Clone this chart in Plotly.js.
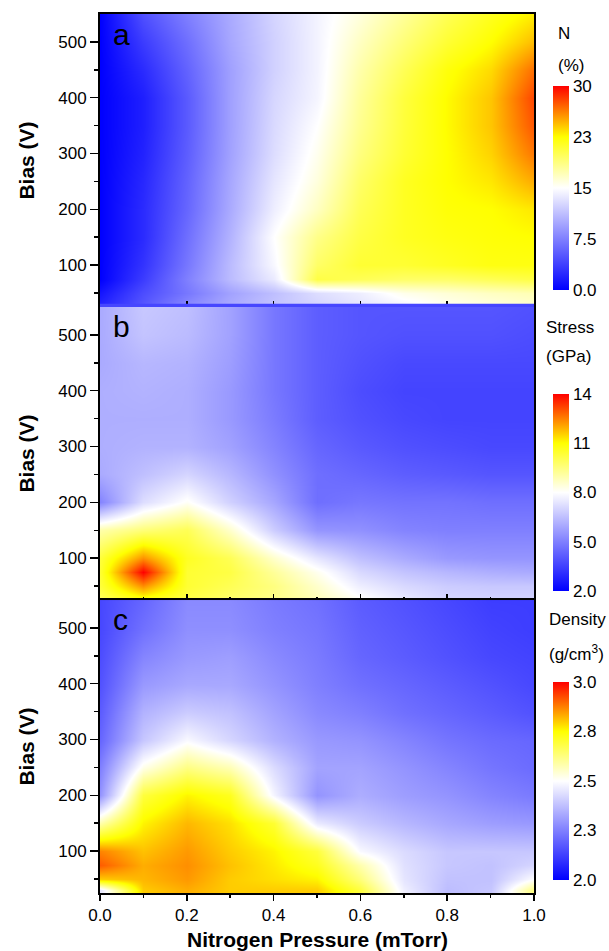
<!DOCTYPE html>
<html>
<head>
<meta charset="utf-8">
<script src="https://cdn.plot.ly/plotly-3.0.1.min.js"></script>
<style>html,body{margin:0;padding:0;background:#fff;}#chart{width:609px;height:951px;}</style>
</head>
<body>
<div id="chart"></div>
<script>
// Nitrogen pressure (mTorr) grid columns
const pressure = [0, 0.1, 0.2, 0.3, 0.4, 0.5, 0.6, 0.7, 0.8, 0.9, 1.0];
// Bias (V) grid rows
const bias = [30, 50, 75, 100, 150, 200, 250, 300, 350, 400, 450, 500, 550];

// Panel a: N content (%)
const nitrogen = [
  [2, 5, 8, 10, 11.5, 12.5, 13.5, 14.5, 15.5, 16, 16.5],
  [1.2, 4.5, 7, 9.5, 11.2, 13, 14, 15.6, 16.2, 16.8, 17.2],
  [0, 3.5, 7.5, 11, 13.8, 20.5, 20, 19.5, 19.5, 20, 20.5],
  [0, 3, 7, 11, 14.6, 19.5, 21, 21, 21.5, 22, 22],
  [0, 2.5, 6.5, 10.5, 15, 18.5, 20.5, 21.5, 22, 22.3, 22.5],
  [0, 2.5, 6, 10, 14, 16.8, 20, 21.5, 22.3, 22.5, 23.2],
  [0, 2.3, 5.8, 9.8, 13.5, 16, 19.5, 21.5, 22.5, 23.2, 25],
  [0, 2, 5.5, 9.5, 13, 15.5, 18.8, 21, 22.5, 23.8, 26.5],
  [0, 1.8, 5.3, 9.4, 12.8, 15, 18.3, 20.8, 22.6, 24.2, 27.5],
  [0, 1.8, 5.3, 9.4, 12.6, 14.4, 18, 20.7, 22.6, 24.2, 28],
  [0, 2.5, 5.8, 9.4, 12.3, 14.3, 17.5, 20, 22.2, 23.6, 26.8],
  [0, 3.5, 6.5, 9.8, 12.3, 14.3, 16.8, 19, 21, 22.5, 24.5],
  [0, 4.7, 7.5, 10, 12.5, 14.3, 16, 18, 20, 21.6, 23]
];

// Panel b: Stress (GPa)
const stress = [
  [10, 11, 10.2, 9.8, 9.4, 8.8, 8, 7.4, 7, 6.9, 6.9],
  [10.3, 12.3, 10.4, 10, 9.5, 8.6, 7.6, 7.1, 6.8, 6.7, 6.7],
  [10.4, 14, 10.4, 10.2, 9.2, 8.2, 7.1, 6.6, 6.3, 6.1, 6],
  [10.3, 12.3, 10.6, 10, 8.6, 7.4, 6.5, 6, 5.6, 5.5, 5.5],
  [9, 9.6, 10, 8.6, 6.8, 5.5, 5.4, 5.1, 5, 5, 5],
  [5.1, 7.2, 8.1, 6.9, 5.9, 4.6, 4.8, 4.7, 4.7, 4.6, 4.6],
  [6, 6.5, 7, 6.3, 5.4, 4.6, 4.4, 4.2, 4.1, 4, 4],
  [6.1, 6.2, 6.2, 5.8, 5.1, 4.4, 4.1, 3.9, 3.8, 3.7, 3.7],
  [6.1, 6.1, 6.1, 5.6, 4.9, 4.2, 3.9, 3.7, 3.6, 3.6, 3.6],
  [6.1, 6.2, 6.1, 5.6, 4.8, 4.2, 3.8, 3.6, 3.6, 3.6, 3.6],
  [6, 6.3, 6.2, 5.7, 4.8, 4.2, 3.9, 3.7, 3.7, 3.7, 3.7],
  [6, 6.6, 6.4, 5.8, 4.8, 4.2, 4, 3.9, 3.9, 3.9, 3.8],
  [6, 6.7, 6.5, 5.8, 4.8, 4.2, 4, 4, 4, 4, 3.9]
];

// Panel c: Density (g/cm3)
const density = [
  [2.45, 2.8, 2.83, 2.8, 2.8, 2.8, 2.69, 2.47, 2.37, 2.39, 2.63],
  [2.8, 2.82, 2.85, 2.8, 2.78, 2.76, 2.63, 2.45, 2.38, 2.38, 2.5],
  [2.91, 2.83, 2.86, 2.81, 2.77, 2.72, 2.58, 2.44, 2.39, 2.38, 2.42],
  [2.87, 2.81, 2.85, 2.8, 2.76, 2.69, 2.49, 2.43, 2.39, 2.39, 2.39],
  [2.58, 2.76, 2.82, 2.78, 2.7, 2.46, 2.4, 2.36, 2.33, 2.31, 2.3],
  [2.29, 2.69, 2.76, 2.72, 2.48, 2.29, 2.34, 2.31, 2.29, 2.26, 2.24],
  [2.25, 2.52, 2.62, 2.57, 2.43, 2.32, 2.32, 2.29, 2.26, 2.23, 2.21],
  [2.2, 2.39, 2.49, 2.42, 2.35, 2.3, 2.29, 2.26, 2.23, 2.21, 2.2],
  [2.18, 2.35, 2.4, 2.38, 2.32, 2.27, 2.25, 2.22, 2.2, 2.18, 2.16],
  [2.16, 2.3, 2.33, 2.33, 2.29, 2.25, 2.22, 2.2, 2.18, 2.16, 2.14],
  [2.15, 2.26, 2.3, 2.31, 2.27, 2.24, 2.2, 2.18, 2.16, 2.14, 2.13],
  [2.14, 2.22, 2.28, 2.28, 2.25, 2.23, 2.19, 2.17, 2.15, 2.13, 2.12],
  [2.14, 2.2, 2.27, 2.27, 2.24, 2.22, 2.18, 2.16, 2.14, 2.12, 2.12]
];

// Colorbar ticks
const nTickVals = [0, 7.5, 15, 22.5, 30];
const nTickText = ['0.0', '7.5', '15', '23', '30'];
const sTickVals = [2, 5, 8, 11, 14];
const sTickText = ['2.0', '5.0', '8.0', '11', '14'];
const dTickVals = [2, 2.25, 2.5, 2.75, 3];
const dTickText = ['2.0', '2.3', '2.5', '2.8', '3.0'];

const FONT = 'Liberation Sans, Arial, Helvetica, sans-serif';
const cscale = [[0, '#0000ff'], [0.5, '#ffffff'], [0.75, '#ffff00'], [1, '#ff0000']];

function cbar(y, len, vals, text) {
  return {
    thickness: 16, thicknessmode: 'pixels',
    len: len, lenmode: 'pixels',
    x: 1.0438, xanchor: 'left', xpad: 0,
    y: y, yanchor: 'middle', ypad: 0,
    outlinewidth: 0,
    tickvals: vals, ticktext: text,
    ticks: '', ticklabelpad: 1,
    tickfont: {family: FONT, size: 17, color: '#000'}
  };
}

const traces = [
  {type: 'heatmap', x: pressure, y: bias, z: nitrogen, zmin: 0, zmax: 30,
   colorscale: cscale, zsmooth: 'best', xaxis: 'x', yaxis: 'y',
   colorbar: cbar(0.802, 204, nTickVals, nTickText)},
  {type: 'heatmap', x: pressure, y: bias, z: stress, zmin: 2, zmax: 14,
   colorscale: cscale, zsmooth: 'best', xaxis: 'x2', yaxis: 'y2',
   colorbar: cbar(0.4556, 197, sTickVals, sTickText)},
  {type: 'heatmap', x: pressure, y: bias, z: density, zmin: 2, zmax: 3,
   colorscale: cscale, zsmooth: 'best', xaxis: 'x3', yaxis: 'y3',
   colorbar: cbar(0.1274, 198, dTickVals, dTickText)}
];

function xax(anchor, bottom) {
  return {
    domain: [0, 1], anchor: anchor, range: [0, 1],
    showline: true, linecolor: '#000', linewidth: 2, mirror: true,
    showgrid: false, zeroline: false,
    tickvals: [0, 0.2, 0.4, 0.6, 0.8, 1.0], tickformat: '.1f',
    ticks: bottom ? 'outside' : 'inside', ticklen: 6, tickwidth: 1.5, tickcolor: '#000',
    minor: {tickvals: [0.1, 0.3, 0.5, 0.7, 0.9], ticks: bottom ? 'outside' : 'inside', ticklen: 3, tickwidth: 1.5, tickcolor: '#000'},
    showticklabels: bottom,
    tickfont: {family: FONT, size: 17, color: '#000'}
  };
}
function yax(anchor, dom) {
  return {
    domain: dom, anchor: anchor, range: [25, 550],
    showline: true, linecolor: '#000', linewidth: 2, mirror: true,
    showgrid: false, zeroline: false,
    tickvals: [100, 200, 300, 400, 500],
    ticks: 'outside', ticklen: 8, tickwidth: 1.5, tickcolor: '#000',
    minor: {tickvals: [50, 150, 250, 350, 450], ticks: 'outside', ticklen: 4, tickwidth: 1.5, tickcolor: '#000'},
    tickfont: {family: FONT, size: 17, color: '#000'},
    title: {text: '<b>Bias (V)</b>', font: {family: FONT, size: 21, color: '#000'}, standoff: 18}
  };
}

function ann(text, x, y, size, opts) {
  return Object.assign({text: text, x: x, y: y, xref: 'paper', yref: 'paper',
    xanchor: 'left', yanchor: 'middle', showarrow: false,
    font: {family: FONT, size: size, color: '#000'}}, opts || {});
}

const layout = {
  width: 609, height: 951,
  margin: {l: 100, r: 75, t: 14, b: 58},
  paper_bgcolor: '#fff', plot_bgcolor: '#fff',
  showlegend: false,
  xaxis: xax('y', false),
  yaxis: yax('x', [0.6667, 1]),
  xaxis2: xax('y2', false),
  yaxis2: yax('x2', [0.3333, 0.6667]),
  xaxis3: xax('y3', true),
  yaxis3: yax('x3', [0, 0.3333]),
  shapes: [
    {type: 'rect', xref: 'x domain', yref: 'y domain', x0: 0, x1: 1, y0: 0, y1: 0.011,
     fillcolor: '#4646ff', line: {width: 0}, layer: 'above'}
  ],
  annotations: [
    ann('a', 0.025, 0.977, 30),
    ann('b', 0.025, 0.644, 30),
    ann('c', 0.025, 0.311, 30),
    ann('N', 1.051, 0.978, 17),
    ann('(%)', 1.051, 0.941, 17),
    ann('Stress', 1.024, 0.6439, 17),
    ann('(GPa)', 1.024, 0.6098, 17),
    ann('Density', 1.031, 0.3106, 17),
    ann('(g/cm<sup>3</sup>)', 1.031, 0.273, 17),
    ann('<b>Nitrogen Pressure (mTorr)</b>', 0.5, -0.053, 21, {xanchor: 'center'})
  ]
};

Plotly.newPlot('chart', traces, layout, {staticPlot: true, displayModeBar: false});
</script>
</body>
</html>
